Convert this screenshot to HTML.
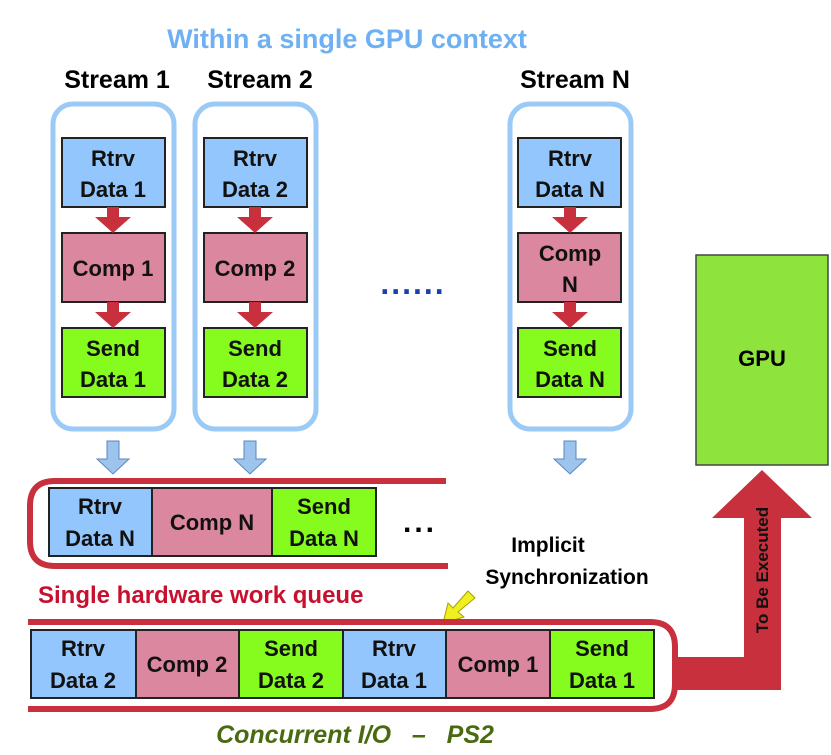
<!DOCTYPE html>
<html><head><meta charset="utf-8"><style>body{margin:0;background:#fff}svg{display:block}text{font-family:"Liberation Sans",sans-serif;font-weight:bold}</style></head><body>
<svg width="831" height="755" xmlns="http://www.w3.org/2000/svg">
<defs>
<g id="ra"><path d="M-6 0 H6 V10 H18 L0 26 L-18 10 H-6 Z" fill="#c8303e"/></g>
<g id="ba"><path d="M-6 0 H6 V18 H16 L0 33 L-16 18 H-6 Z" fill="#9cc4ec" stroke="#5a86c0" stroke-width="1"/></g>
</defs>
<text x="347" y="48" font-size="27" fill="#6fb0f2" text-anchor="middle">Within a single GPU context</text>
<text x="117" y="88" font-size="25" text-anchor="middle">Stream 1</text>
<text x="260" y="88" font-size="25" text-anchor="middle">Stream 2</text>
<text x="575" y="88" font-size="25" text-anchor="middle">Stream N</text>
<g fill="none" stroke="#9ccaf7" stroke-width="5">
<rect x="53" y="104" width="121" height="325" rx="20"/>
<rect x="195" y="104" width="121" height="325" rx="20"/>
<rect x="510" y="104" width="121" height="325" rx="20"/>
</g>
<g stroke="#222" stroke-width="2">
<rect x="62" y="138" width="103" height="69" fill="#93c6fc"/>
<rect x="62" y="233" width="103" height="69" fill="#dc87a0"/>
<rect x="62" y="328" width="103" height="69" fill="#86fb1e"/>
<rect x="204" y="138" width="103" height="69" fill="#93c6fc"/>
<rect x="204" y="233" width="103" height="69" fill="#dc87a0"/>
<rect x="204" y="328" width="103" height="69" fill="#86fb1e"/>
<rect x="518" y="138" width="103" height="69" fill="#93c6fc"/>
<rect x="518" y="233" width="103" height="69" fill="#dc87a0"/>
<rect x="518" y="328" width="103" height="69" fill="#86fb1e"/>
</g>
<use href="#ra" x="113" y="207"/><use href="#ra" x="113" y="302"/>
<use href="#ra" x="255" y="207"/><use href="#ra" x="255" y="302"/>
<use href="#ra" x="570" y="207"/><use href="#ra" x="570" y="302"/>
<g font-size="22" text-anchor="middle" fill="#111">
<text x="113" y="166">Rtrv</text><text x="113" y="197">Data 1</text>
<text x="113" y="276">Comp 1</text>
<text x="113" y="356">Send</text><text x="113" y="387">Data 1</text>
<text x="255" y="166">Rtrv</text><text x="255" y="197">Data 2</text>
<text x="255" y="276">Comp 2</text>
<text x="255" y="356">Send</text><text x="255" y="387">Data 2</text>
<text x="570" y="166">Rtrv</text><text x="570" y="197">Data N</text>
<text x="570" y="261">Comp</text><text x="570" y="292">N</text>
<text x="570" y="356">Send</text><text x="570" y="387">Data N</text>
</g>
<text x="413" y="294" font-size="32" fill="#1a3fb0" text-anchor="middle" letter-spacing="2">......</text>
<use href="#ba" x="113" y="441"/><use href="#ba" x="250" y="441"/><use href="#ba" x="570" y="441"/>
<rect x="696" y="255" width="132" height="210" fill="#8ee33c" stroke="#444" stroke-width="1.5"/>
<text x="762" y="366" font-size="22" text-anchor="middle">GPU</text>
<path d="M446 481 H55 Q30 481 30 506 V541 Q30 566 55 566 H448" fill="none" stroke="#c8303e" stroke-width="6"/>
<g stroke="#222" stroke-width="2">
<rect x="49" y="488" width="103" height="68" fill="#93c6fc"/>
<rect x="152" y="488" width="120" height="68" fill="#dc87a0"/>
<rect x="272" y="488" width="104" height="68" fill="#86fb1e"/>
</g>
<g font-size="22" text-anchor="middle" fill="#111">
<text x="100" y="514">Rtrv</text><text x="100" y="546">Data N</text>
<text x="212" y="530">Comp N</text>
<text x="324" y="514">Send</text><text x="324" y="546">Data N</text>
</g>
<text x="420" y="532" font-size="30" text-anchor="middle" letter-spacing="3">...</text>
<text x="548" y="552" font-size="21" text-anchor="middle">Implicit</text>
<text x="567" y="584" font-size="21" text-anchor="middle">Synchronization</text>
<text x="38" y="603" font-size="24" fill="#c8102e">Single hardware work queue</text>
<path d="M468 591 L475 598 L458 612 L464 617 L443 623 L448 603 L453 608 Z" fill="#f0f020" stroke="#aaa000" stroke-width="1"/>
<path d="M675 657 H744 V518 H712 L762 470 L812 518 H781 V690 H675 Z" fill="#c8303e"/>
<text transform="translate(768 570) rotate(-90)" font-size="17" text-anchor="middle" fill="#111">To Be Executed</text>
<path d="M28 622 H650 Q675 622 675 647 V684 Q675 709 650 709 H28" fill="none" stroke="#c8303e" stroke-width="6"/>
<g stroke="#222" stroke-width="2">
<rect x="31" y="630" width="105" height="68" fill="#93c6fc"/>
<rect x="136" y="630" width="103" height="68" fill="#dc87a0"/>
<rect x="239" y="630" width="104" height="68" fill="#86fb1e"/>
<rect x="343" y="630" width="103" height="68" fill="#93c6fc"/>
<rect x="446" y="630" width="104" height="68" fill="#dc87a0"/>
<rect x="550" y="630" width="104" height="68" fill="#86fb1e"/>
</g>
<g font-size="22" text-anchor="middle" fill="#111">
<text x="83" y="656">Rtrv</text><text x="83" y="688">Data 2</text>
<text x="187" y="672">Comp 2</text>
<text x="291" y="656">Send</text><text x="291" y="688">Data 2</text>
<text x="394" y="656">Rtrv</text><text x="394" y="688">Data 1</text>
<text x="498" y="672">Comp 1</text>
<text x="602" y="656">Send</text><text x="602" y="688">Data 1</text>
</g>
<text x="355" y="743" font-size="25" font-style="italic" fill="#4a6a10" text-anchor="middle" xml:space="preserve">Concurrent I/O   –   PS2</text>
</svg>
</body></html>
